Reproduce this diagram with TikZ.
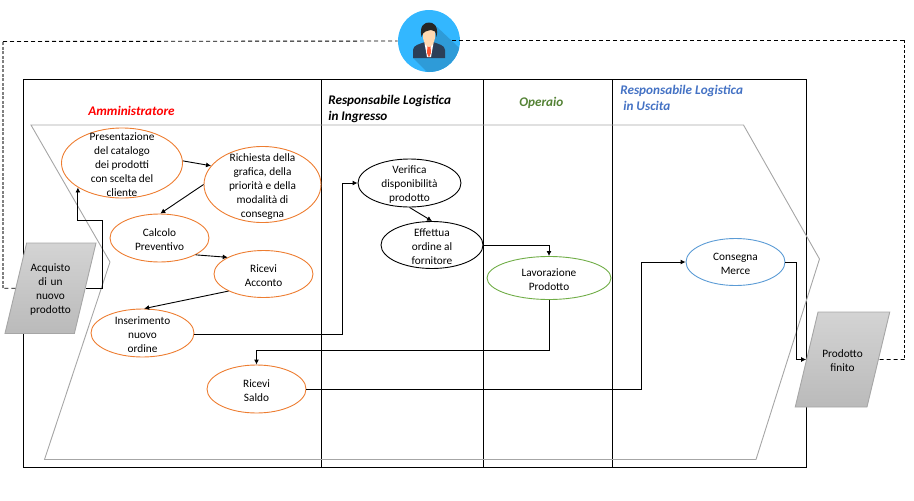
\documentclass[tikz,border=0pt]{standalone}
\usepackage{fontspec}
\setmainfont{Carlito}
\usetikzlibrary{shapes.geometric,arrows.meta}

\definecolor{taskorange}{HTML}{ED7D31}
\definecolor{taskgreen}{HTML}{70AD47}
\definecolor{taskblue}{HTML}{5B9BD5}
\definecolor{lanegreen}{HTML}{548235}
\definecolor{laneblue}{HTML}{4472C4}
\definecolor{chevrongray}{HTML}{A6A6A6}
\definecolor{avatarblue}{HTML}{33B7FF}
\definecolor{avatarshade}{HTML}{2E9BD8}
\definecolor{avatarsuit}{HTML}{2B3F58}
\newcommand{\firstline}{\rule{0pt}{11pt}}

\begin{document}
\begin{tikzpicture}[x=1pt,y=-1pt,>={Latex[length=5pt,width=5pt]},line width=0.9pt,
            task node/.style={ellipse,draw,inner sep=-30pt,align=center,
                font=\fontsize{11.3}{14}\selectfont},
            io node/.style={trapezium,draw=chevrongray,top color=black!17,bottom color=black!27,
                trapezium left angle=76.5,trapezium right angle=103.5,
                inner xsep=0pt,text width=47.5pt,align=center,font=\fontsize{11.3}{14}\selectfont},
            lane title/.style={font=\fontsize{13.2}{16}\selectfont\bfseries\itshape,align=left,anchor=west}]

        \useasboundingbox (0,0) rectangle (914,501);

        % Define lanes
        \draw (23.5,79.5) rectangle (806,467);
        \draw (321.5,79.5) -- (321.5,468);
        \draw (483.5,79.5) -- (483.5,467);
        \draw (612.5,79.5) -- (612.5,467);

        % Chevron
        \draw[chevrongray] (31,125) -- (743.5,125) -- (819.5,259) -- (756,459.5)
            -- (44.5,459.5) -- (110,262) -- cycle;

        % Define lane titles
        \node[lane title,text=red] (admin) at (84.5,111) {Amministratore};
        \node[lane title] (ingresso) at (324.5,109) {Responsabile Logistica\\in Ingresso};
        \node[lane title,text=lanegreen] (operaio) at (515.5,103) {Operaio};
        \node[lane title,text=laneblue] (uscita) at (616.5,98) {Responsabile Logistica\\\ in Uscita};

        % Define vertices
        \node[task node,draw=taskorange,minimum width=121pt,minimum height=70pt] (pres) at (122,163)
            {\firstline Presentazione\\del catalogo\\dei prodotti\\con scelta del\\cliente};
        \node[task node,draw=taskorange,minimum width=117pt,minimum height=76pt] (rich) at (262.5,184.5)
            {\firstline Richiesta della\\grafica, della\\priorità e della\\modalità di\\consegna};
        \node[task node,draw=taskorange,minimum width=99pt,minimum height=48pt] (calc) at (159.5,238)
            {\firstline Calcolo\\Preventivo};
        \node[task node,draw=taskorange,minimum width=99pt,minimum height=47pt] (acconto) at (263.5,274)
            {\firstline Ricevi\\Acconto};
        \node[task node,draw=taskorange,minimum width=103pt,minimum height=48pt] (ins) at (142.5,333)
            {\firstline Inserimento\\nuovo\\ordine};
        \node[task node,draw=taskorange,minimum width=99pt,minimum height=48pt] (saldo) at (256.5,389)
            {\firstline Ricevi\\Saldo};
        \node[task node,draw=black,minimum width=103pt,minimum height=48pt] (ver) at (409.5,183)
            {\firstline Verifica\\disponibilità\\prodotto};
        \node[task node,draw=black,minimum width=102pt,minimum height=47pt] (eff) at (432,245)
            {\firstline Effettua\\ordine al\\fornitore};
        \node[task node,draw=taskgreen,minimum width=124pt,minimum height=43pt] (lav) at (549,278)
            {\firstline Lavorazione\\Prodotto};
        \node[task node,draw=taskblue,minimum width=99pt,minimum height=47pt] (cons) at (735.5,262)
            {\firstline Consegna\\Merce};
        \node[io node,inner ysep=17.5pt,minimum height=90.5pt] (acq) at (50.5,288.25)
            {\firstline Acquisto\\di un\\nuovo\\prodotto};
        \node[io node,inner ysep=33.5pt,minimum height=95pt] (prod) at (842.5,359.5)
            {\firstline Prodotto\\finito};

        % Avatar
        \node[circle,fill=avatarblue,minimum size=62pt,inner sep=0pt] (avatar) at (429,41) {};
        \begin{scope}
            \clip (429,41) circle (31);
            \fill[avatarshade] (437,27) -- (470,58) -- (440,85) -- (413,58) -- cycle;
        \end{scope}
        \fill[avatarsuit] (413,58) -- (413,50) .. controls (413,45) and (420,44) .. (425,42)
            -- (433,42) .. controls (438,44) and (445,45) .. (445,50) -- (445,58) -- cycle;
        \fill[white] (424.5,43) -- (433.5,43) -- (431,57) -- (427,57) -- cycle;
        \fill[red!65!orange!80] (427.5,46) -- (430.5,46) -- (431,53) -- (429,57.5) -- (427,53) -- cycle;
        \fill[orange!30!white] (423,30) -- (435,30) -- (435,38) .. controls (434,44) and (431,47) .. (429,47)
            .. controls (427,47) and (424,44) .. (423,38) -- cycle;
        \fill[black!85] (421.5,37) .. controls (419,25) and (425,22.5) .. (429,22.5)
            .. controls (433,22.5) and (439,25) .. (436.5,37) .. controls (436,31) and (434,30) .. (431,30)
            .. controls (427,31) and (423,31) .. (421.5,37) -- cycle;

        % Draw edges
        \path[->,every node/.style={font=\small}]
            (pres.2) edge (rich.160)
            (rich.180) edge (calc.88)
            (calc.-25) edge (acconto.155)
            (acconto.206) edge (ins.86)
            (ver.-90) edge (eff.90);

        \draw[->] (acq.east) -| (102,220) -| (pres.209);
        \draw[->] (ins.-2) -| (342.5,183) -- (ver.west);
        \draw[->] (eff.east) -| (lav.north);
        \draw[->] (lav.south) -- ++(0,50) -| (saldo.north);
        \draw[->] (saldo.east) -| (641,262) -- (cons.west);
        \draw[->] (cons.east) -- ++(11,0) |- (prod.west);

        % Feedback loop
        \coordinate (loopa) at (3,288.25);
        \coordinate (loopb) at (3,41.5);
        \coordinate (loopc) at (452,40);
        \coordinate (loopd) at (904.5,40);
        \coordinate (loope) at (904.5,359.5);
        \draw[dash pattern=on 4pt off 3pt] (acq.west) -- (loopa);
        \draw[gray,line width=1.3pt,dash pattern=on 3pt off 1.5pt] (loopa) -- (loopb);
        \draw[dash pattern=on 4pt off 3pt] (loopb) -- (avatar.west);
        \draw[dash pattern=on 4pt off 3pt] (loopc) -- (loopd);
        \draw[dash pattern=on 3pt off 2pt] (loopd) -- (loope);
        \draw[dash pattern=on 4pt off 3pt] (loope) -- (prod.east);

\end{tikzpicture}
\end{document}
